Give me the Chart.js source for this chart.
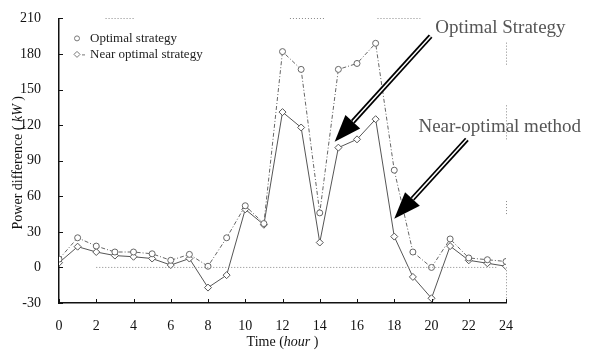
<!DOCTYPE html>
<html>
<head>
<meta charset="utf-8">
<script src="https://cdn.jsdelivr.net/npm/chart.js@4.4.1/dist/chart.umd.min.js"></script>
<style>
  html, body { margin: 0; padding: 0; background: #fff; }
  #wrap { width: 589px; height: 351px; }
</style>
</head>
<body>
<div id="wrap"><canvas id="chart" width="589" height="351"></canvas></div>
<script>
// Данные графика
const hours = [0, 1, 2, 3, 4, 5, 6, 7, 8, 9, 10, 11, 12, 13, 14, 15, 16, 17, 18, 19, 20, 21, 22, 23, 24];
const optimalValues = [7, 25, 18, 13, 13, 11.5, 6, 11, 1, 25, 52, 37, 182, 167, 46, 167, 172, 189, 82, 13, 0, 24, 8, 6.5, 5];
const nearOptimalValues = [4, 17.5, 13, 10, 9, 7.5, 2, 7.5, -17, -6.5, 49, 36, 131, 118, 21, 101, 108, 125, 26, -8, -26, 18, 6, 3.5, 1];
const seriesLabels = ['Optimal strategy', 'Near optimal strategy'];
const xTicks = [0, 2, 4, 6, 8, 10, 12, 14, 16, 18, 20, 22, 24];
const yTicks = [-30, 0, 30, 60, 90, 120, 150, 180, 210];
const zeroLineHours = [2, 23.5];
// Остатки пунктирной рамки (сверху по часам, справа по значениям)
const topFrameHours = [[2.5, 4.1], [12.4, 14.3], [17.1, 19.4]];
const rightFrameValues = [[171, 191], [108, 137], [45, 57], [-26, 0]];

// Подписи со стрелками (в координатах данных)
const notes = [
  { text: 'Optimal Strategy', x: 20.2, y: 202, from: [19.95, 195], to: [14.8, 106] },
  { text: 'Near-optimal method', x: 19.3, y: 118, from: [21.9, 108], to: [18.0, 41] }
];

const SERIF = '"Liberation Serif", "DejaVu Serif", serif';

function toPoints(values) {
  return hours.map((h, i) => ({ x: h, y: values[i] }));
}

// ================== ПЛАГИН ОФОРМЛЕНИЯ ================== //
const decorPlugin = {
  id: 'decor',
  afterDraw(chart) {
    const { ctx, chartArea: area, scales: { x, y } } = chart;
    ctx.save();

    // Засечки внутрь
    ctx.strokeStyle = '#111';
    ctx.lineWidth = 1;
    xTicks.forEach(t => {
      const px = Math.round(x.getPixelForValue(t)) + 0.5;
      ctx.beginPath();
      ctx.moveTo(px, area.bottom);
      ctx.lineTo(px, area.bottom - 4);
      ctx.stroke();
    });
    yTicks.forEach(t => {
      const py = Math.round(y.getPixelForValue(t)) + 0.5;
      ctx.beginPath();
      ctx.moveTo(area.left, py);
      ctx.lineTo(area.left + 4, py);
      ctx.stroke();
    });

    // Пунктирные остатки рамки
    ctx.strokeStyle = '#888';
    ctx.setLineDash([1, 2]);
    topFrameHours.forEach(r => {
      const py = Math.round(y.getPixelForValue(210)) + 0.5;
      ctx.beginPath();
      ctx.moveTo(x.getPixelForValue(r[0]), py);
      ctx.lineTo(x.getPixelForValue(r[1]), py);
      ctx.stroke();
    });
    rightFrameValues.forEach(r => {
      const px = Math.round(x.getPixelForValue(24)) + 0.5;
      ctx.beginPath();
      ctx.moveTo(px, y.getPixelForValue(r[0]));
      ctx.lineTo(px, y.getPixelForValue(r[1]));
      ctx.stroke();
    });
    ctx.setLineDash([]);

    // Подписи осей с курсивом
    function mixed(parts, cx, cy) {
      let total = 0;
      parts.forEach(p => { ctx.font = p[1] + ' 14px ' + SERIF; total += ctx.measureText(p[0]).width; });
      let cur = cx - total / 2;
      parts.forEach(p => {
        ctx.font = p[1] + ' 14px ' + SERIF;
        ctx.fillText(p[0], cur, cy);
        cur += ctx.measureText(p[0]).width;
      });
    }
    ctx.fillStyle = '#111';
    ctx.textBaseline = 'middle';
    ctx.textAlign = 'left';
    mixed([['Time (', 'normal'], ['hour', 'italic'], [' )', 'normal']], (area.left + area.right) / 2, 342);
    ctx.save();
    ctx.translate(18, (area.top + area.bottom) / 2 + 2);
    ctx.rotate(-Math.PI / 2);
    mixed([['Power difference ( ', 'normal'], ['kW', 'italic'], [' )', 'normal']], 0, 0);
    ctx.restore();

    // Легенда
    const lx = area.left + 18, ly = area.top + 20;
    ctx.font = '13px ' + SERIF;
    ctx.strokeStyle = '#777';
    ctx.fillStyle = '#fff';
    ctx.beginPath();
    ctx.arc(lx, ly, 2.5, 0, Math.PI * 2);
    ctx.fill(); ctx.stroke();
    ctx.beginPath();
    ctx.moveTo(lx, ly + 16 - 3); ctx.lineTo(lx + 3, ly + 16); ctx.lineTo(lx, ly + 16 + 3); ctx.lineTo(lx - 3, ly + 16);
    ctx.closePath(); ctx.fill(); ctx.stroke();
    ctx.beginPath(); ctx.moveTo(lx + 5, ly + 16.5); ctx.lineTo(lx + 8, ly + 16.5); ctx.stroke();
    ctx.fillStyle = '#222';
    ctx.fillText(seriesLabels[0], lx + 13, ly);
    ctx.fillText(seriesLabels[1], lx + 13, ly + 16);

    // Стрелки и подписи
    notes.forEach(n => {
      const x0 = x.getPixelForValue(n.from[0]), y0 = y.getPixelForValue(n.from[1]);
      const x1 = x.getPixelForValue(n.to[0]), y1 = y.getPixelForValue(n.to[1]);
      const ang = Math.atan2(y1 - y0, x1 - x0);
      const headLen = 27, headHalf = 10;
      const bx = x1 - headLen * Math.cos(ang), by = y1 - headLen * Math.sin(ang);
      ctx.lineCap = 'butt';
      ctx.strokeStyle = '#000';
      ctx.lineWidth = 5;
      ctx.beginPath(); ctx.moveTo(x0, y0); ctx.lineTo(bx, by); ctx.stroke();
      ctx.strokeStyle = '#fff';
      ctx.lineWidth = 1.5;
      ctx.beginPath(); ctx.moveTo(x0, y0); ctx.lineTo(bx, by); ctx.stroke();
      ctx.fillStyle = '#000';
      ctx.beginPath();
      ctx.moveTo(x1, y1);
      ctx.lineTo(bx + headHalf * Math.sin(ang), by - headHalf * Math.cos(ang));
      ctx.lineTo(bx - headHalf * Math.sin(ang), by + headHalf * Math.cos(ang));
      ctx.closePath();
      ctx.fill();

      ctx.font = '19px ' + SERIF;
      ctx.fillStyle = '#555';
      ctx.textAlign = 'left';
      ctx.fillText(n.text, x.getPixelForValue(n.x), y.getPixelForValue(n.y));
    });

    ctx.restore();
  }
};

// ================== ГРАФИК ================== //
function renderChart() {
  const ctx = document.getElementById('chart').getContext('2d');
  return new Chart(ctx, {
    type: 'line',
    data: {
      datasets: [
        {
          label: 'zero',
          data: zeroLineHours.map(h => ({ x: h, y: 0 })),
          borderColor: '#888',
          borderWidth: 1,
          borderDash: [1, 2],
          pointRadius: 0
        },
        {
          label: seriesLabels[0],
          data: toPoints(optimalValues),
          borderColor: '#666',
          borderWidth: 1,
          borderDash: [4, 2, 1, 2],
          pointStyle: 'circle',
          pointRadius: 3,
          pointBorderColor: '#666',
          pointBackgroundColor: '#fff',
          pointBorderWidth: 1,
          tension: 0
        },
        {
          label: seriesLabels[1],
          data: toPoints(nearOptimalValues),
          borderColor: '#555',
          borderWidth: 1,
          pointStyle: 'rectRot',
          pointRadius: 3.5,
          pointBorderColor: '#555',
          pointBackgroundColor: '#fff',
          pointBorderWidth: 1,
          tension: 0
        }
      ]
    },
    options: {
      responsive: false,
      animation: false,
      layout: { padding: { left: 0, right: 83, top: 16, bottom: 0 } },
      plugins: { legend: { display: false }, tooltip: { enabled: false } },
      scales: {
        x: {
          type: 'linear',
          min: 0,
          max: 24,
          afterFit: s => { s.height = 48; },
          afterBuildTicks: s => { s.ticks = xTicks.map(v => ({ value: v })); },
          grid: { display: false },
          border: { display: true, color: '#111', width: 1.5 },
          ticks: { color: '#111', padding: 7, font: { family: SERIF, size: 14 } }
        },
        y: {
          min: -30,
          max: 210,
          afterFit: s => { s.width = 59; },
          afterBuildTicks: s => { s.ticks = yTicks.map(v => ({ value: v })); },
          grid: { display: false },
          border: { display: true, color: '#111', width: 1.5 },
          ticks: { color: '#111', padding: 10, font: { family: SERIF, size: 14 } }
        }
      }
    },
    plugins: [decorPlugin]
  });
}

document.addEventListener('DOMContentLoaded', renderChart);
</script>
</body>
</html>
